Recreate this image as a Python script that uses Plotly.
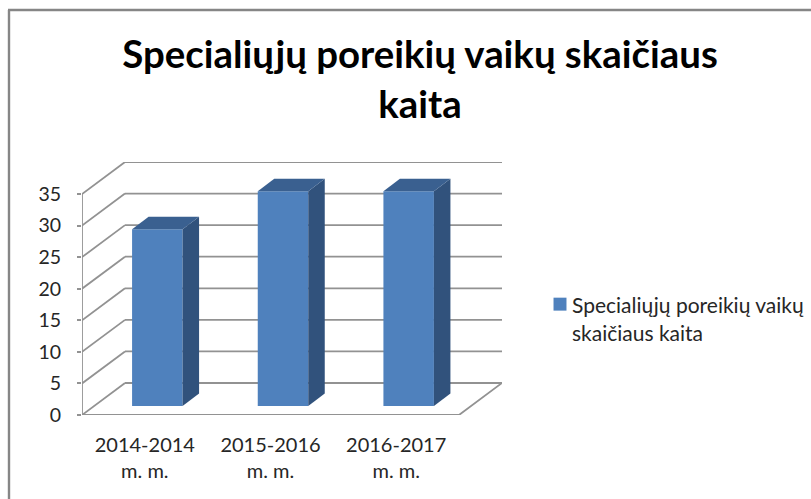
import plotly.graph_objects as go

categories = ["2014-2014<br>m. m.", "2015-2016<br>m. m.", "2016-2017<br>m. m."]
values = [28, 34, 34]
y_ticks = [0, 5, 10, 15, 20, 25, 30, 35]
series_name = "Specialiųjų poreikių vaikų<br>skaičiaus kaita"
title_text = "Specialiųjų poreikių vaikų skaičiaus<br>kaita"

W, H = 811, 499
L, R, T, B = 82, 502, 162, 415
PX_PER_CAT = (459 - 82) / 3
PX_PER_UNIT = 221 / 35
FONT = "Lato"
GRID = "#929292"
FRONT = "#4f81bd"
SIDE = "#31527c"
TOP = "#3a6090"

def ux(px):
    return px / PX_PER_CAT
def uy(px):
    return px / PX_PER_UNIT

x0 = -0.5
x_end = x0 + len(categories)
wall_dx, wall_dy = ux(43), uy(32)
bar_shift, bar_base = ux(12.5), uy(9)
bar_w = ux(50.5)
depth_dx, depth_dy = ux(16.5), uy(12.5)

fig = go.Figure()

idx = list(range(len(categories)))
fig.add_trace(go.Bar(x=[i + bar_shift for i in idx], y=values, base=bar_base, width=bar_w,
                     marker=dict(color=FRONT, line_width=0), name=series_name,
                     showlegend=True))

for i, v in zip(idx, values):
    xl = i + bar_shift - bar_w / 2
    xr = xl + bar_w
    yb = bar_base
    yt = bar_base + v
    fig.add_trace(go.Scatter(x=[xr, xr + depth_dx, xr + depth_dx, xr, xr],
                             y=[yb, yb + depth_dy, yt + depth_dy, yt, yb],
                             mode="lines", fill="toself", fillcolor=SIDE, line=dict(width=0),
                             showlegend=False, hoverinfo="skip"))
    fig.add_trace(go.Scatter(x=[xl, xr, xr + depth_dx, xl + depth_dx, xl],
                             y=[yt, yt, yt + depth_dy, yt + depth_dy, yt],
                             mode="lines", fill="toself", fillcolor=TOP, line=dict(width=0),
                             showlegend=False, hoverinfo="skip"))

line = dict(color=GRID, width=1.8)
shapes = []
for t in y_ticks:
    shapes.append(dict(type="line", layer="below", xref="x", yref="y",
                       x0=x0 + wall_dx, x1=x_end + wall_dx,
                       y0=t + wall_dy, y1=t + wall_dy, line=line))
    fig.add_trace(go.Scatter(x=[x0, x0 + wall_dx], y=[t, t + wall_dy], mode="lines", line=line,
                             cliponaxis=False, showlegend=False, hoverinfo="skip"))

# axis lines and boundary ticks
fig.add_trace(go.Scatter(x=[x0, x0], y=[0, y_ticks[-1]], mode="lines", line=line,
                         cliponaxis=False, showlegend=False, hoverinfo="skip"))
fig.add_trace(go.Scatter(x=[x0, x_end, x_end + wall_dx], y=[0, 0, wall_dy], mode="lines", line=line,
                         cliponaxis=False, showlegend=False, hoverinfo="skip"))
for i in range(len(categories) + 1):
    fig.add_trace(go.Scatter(x=[x0 + i, x0 + i], y=[0, -uy(6)], mode="lines", line=line,
                             cliponaxis=False, showlegend=False, hoverinfo="skip"))

# chart frame: top and left edges only are visible in the crop
def px(v):
    return (v - L) / (R - L)
def py(v):
    return (B - v) / (B - T)
frame = dict(color="#868686", width=2.4)
shapes.append(dict(type="line", xref="paper", yref="paper", x0=px(8), x1=px(811), y0=py(10), y1=py(10), line=frame))
shapes.append(dict(type="line", xref="paper", yref="paper", x0=px(9), x1=px(9), y0=py(10), y1=py(499), line=frame))

fig.update_layout(
    width=W, height=H, autosize=False,
    margin=dict(l=L, r=W - R, t=T, b=H - B, pad=0, autoexpand=False),
    paper_bgcolor="white", plot_bgcolor="white",
    font=dict(family=FONT, size=19.5, color="#262626"),
    title=dict(text=title_text, x=420 / W, xanchor="center", y=1 - 68 / H, yanchor="top",
               font=dict(family=FONT, size=38.4, color="black", weight="bold")),
    xaxis=dict(range=[x0, x_end + wall_dx], tickmode="array", tickvals=idx, ticktext=categories,
               showgrid=False, zeroline=False, showline=False, ticks="", ticklabelstandoff=16,
               tickfont=dict(size=20)),
    yaxis=dict(range=[0, (B - T) / PX_PER_UNIT], tickmode="array", tickvals=y_ticks,
               showgrid=False, zeroline=False, showline=False,
               ticks="outside", ticklen=4, tickwidth=1.8, tickcolor=GRID, ticklabelstandoff=12),
    legend=dict(x=px(532), xanchor="left", y=py(285), yanchor="top", itemclick=False, valign="top",
                bgcolor="rgba(0,0,0,0)", font=dict(family=FONT, size=21, color="#262626")),
    shapes=shapes,
)

post = """
document.body.style.margin='0';document.body.style.overflow='hidden';
setTimeout(function(){
  document.querySelectorAll('.legend .legendpoints path').forEach(function(p){
    p.setAttribute('transform','translate(8,-1) '+(p.getAttribute('transform')||'')+' scale(1.08)');
  });
},50);
"""
fig.write_html("out.html", post_script=post, config=dict(displayModeBar=False))
